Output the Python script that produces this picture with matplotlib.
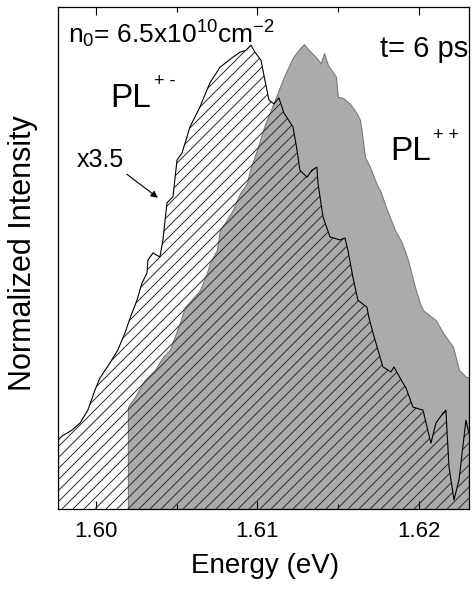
import numpy as np
import matplotlib
matplotlib.use("Agg")
import matplotlib.pyplot as plt
from matplotlib.collections import LineCollection

plt.rcParams['font.family'] = ['Liberation Sans', 'DejaVu Sans']
plt.rcParams['mathtext.fontset'] = 'custom'
plt.rcParams['mathtext.rm'] = 'Liberation Sans'
plt.rcParams['mathtext.default'] = 'regular'

# PL+- spectrum (scaled x3.5), energy in eV
e_pm = [1.59765, 1.59789, 1.59820, 1.59851, 1.59901, 1.59950, 1.59994, 1.60025,
        1.60087, 1.60136, 1.60180, 1.60211, 1.60254, 1.60285, 1.60316, 1.60322,
        1.60353, 1.60396, 1.60415, 1.60440, 1.60477, 1.60502, 1.60533, 1.60582,
        1.60644, 1.60706, 1.60768, 1.60848, 1.60892, 1.60929, 1.60960, 1.60985,
        1.61022, 1.61046, 1.61071, 1.61102, 1.61133, 1.61164, 1.61220, 1.61245,
        1.61263, 1.61307, 1.61337, 1.61368, 1.61375, 1.61406, 1.61449, 1.61511,
        1.61542, 1.61560, 1.61591, 1.61622, 1.61678, 1.61690, 1.61715, 1.61777,
        1.61827, 1.61845, 1.61901, 1.61920, 1.61963, 1.62025, 1.62074, 1.62105,
        1.62149, 1.62167, 1.62186, 1.62217, 1.62248, 1.62291, 1.62310]
i_pm = [0.137, 0.145, 0.151, 0.157, 0.171, 0.197, 0.237, 0.261,
        0.291, 0.317, 0.351, 0.380, 0.416, 0.450, 0.470, 0.496,
        0.510, 0.502, 0.536, 0.610, 0.622, 0.695, 0.709, 0.761,
        0.801, 0.849, 0.880, 0.900, 0.910, 0.914, 0.924, 0.910,
        0.894, 0.855, 0.815, 0.807, 0.819, 0.789, 0.761, 0.715,
        0.675, 0.661, 0.675, 0.681, 0.649, 0.582, 0.542, 0.536,
        0.540, 0.516, 0.462, 0.416, 0.402, 0.382, 0.351, 0.283,
        0.273, 0.283, 0.251, 0.241, 0.203, 0.197, 0.131, 0.171,
        0.191, 0.197, 0.084, 0.018, 0.058, 0.177, 0.151]

# PL++ spectrum
e_pp = [1.60198, 1.60241, 1.60303, 1.60365, 1.60415, 1.60458, 1.60520, 1.60551,
        1.60644, 1.60687, 1.60706, 1.60749, 1.60768, 1.60799, 1.60848, 1.60892,
        1.60935, 1.60954, 1.60997, 1.61046, 1.61108, 1.61164, 1.61220, 1.61269,
        1.61288, 1.61319, 1.61362, 1.61393, 1.61412, 1.61437, 1.61486, 1.61498,
        1.61529, 1.61573, 1.61610, 1.61635, 1.61647, 1.61666, 1.61697, 1.61746,
        1.61759, 1.61802, 1.61851, 1.61895, 1.61932, 1.61975, 1.62006, 1.62025,
        1.62105, 1.62149, 1.62211, 1.62248, 1.62291, 1.62310]
i_pp = [0.203, 0.223, 0.257, 0.277, 0.303, 0.317, 0.371, 0.402,
        0.436, 0.470, 0.490, 0.516, 0.556, 0.570, 0.596, 0.629,
        0.649, 0.675, 0.715, 0.765, 0.815, 0.861, 0.900, 0.920,
        0.926, 0.914, 0.900, 0.888, 0.908, 0.884, 0.861, 0.821,
        0.819, 0.807, 0.791, 0.775, 0.749, 0.701, 0.681, 0.641,
        0.635, 0.596, 0.556, 0.530, 0.496, 0.442, 0.410, 0.396,
        0.376, 0.351, 0.323, 0.277, 0.263, 0.263]

xticks = [1.60, 1.61, 1.62]
xtick_labels = ['1.60', '1.61', '1.62']

fig = plt.figure(figsize=(4.76, 5.90), dpi=100)
ax = fig.add_axes([0.1218, 0.1373, 0.8635, 0.8508])
ax.set_xlim(1.59765, 1.62310)
ax.set_ylim(0, 1)

# gray filled PL++
ax.fill_between(e_pp, 0, i_pp, facecolor='#ababab', edgecolor='#7a7a7a', lw=0.8, zorder=1)

# PL+- outline polygon, used to clip the hatching
px = [e_pm[0]] + e_pm + [e_pm[-1]]
py = [0] + i_pm + [0]
pm_patch = ax.fill(px, py, facecolor='none', edgecolor='none', zorder=2)[0]

# diagonal hatching drawn in axes fraction, 45 deg in pixels
W, H = 411.0, 502.0
step = 11.0
segs = []
for c in np.arange(-H, W + step, step):
    segs.append([(c / W, 0.0), ((c + H) / W, 1.0)])
hatch = LineCollection(segs, colors='#2a2a2a', linewidths=0.7,
                       transform=ax.transAxes, zorder=3)
hatch.set_clip_path(pm_patch)
ax.add_collection(hatch)

ax.plot(e_pm, i_pm, color='black', lw=0.8, zorder=4)
ax.plot([e_pm[0], e_pm[0]], [0, i_pm[0]], color='black', lw=0.8, zorder=4)

ax.set_xticks(xticks)
ax.set_xticklabels(xtick_labels)
ax.set_xticks([1.605, 1.615], minor=True)
ax.set_yticks([])
ax.tick_params(axis='x', which='both', direction='in', top=True, labelsize=16, pad=9)
ax.tick_params(axis='x', which='major', length=6, width=0.8)
ax.tick_params(axis='x', which='minor', length=3.5, width=0.8)
for s in ax.spines.values():
    s.set_linewidth(0.9)

ax.set_xlabel('Energy (eV)', fontsize=20)
ax.xaxis.set_label_coords(0.504, -0.088)
ax.set_ylabel('Normalized Intensity', fontsize=22)
ax.yaxis.set_label_coords(-0.048, 0.51)

ax.text(0.024, 0.928, 'n$_0$= 6.5x10$^{10}$cm$^{-2}$', transform=ax.transAxes,
        fontsize=19, va='baseline', ha='left')
ax.text(0.998, 0.900, 't= 6 ps', transform=ax.transAxes,
        fontsize=21, va='baseline', ha='right')

# PL labels with small, spaced superscripts
ax.text(0.127, 0.801, 'PL', transform=ax.transAxes,
        fontsize=24, va='baseline', ha='left')
ax.text(0.234, 0.842, '+ -', transform=ax.transAxes,
        fontsize=13, va='baseline', ha='left')
ax.text(0.808, 0.695, 'PL', transform=ax.transAxes,
        fontsize=24, va='baseline', ha='left')
ax.text(0.913, 0.735, '+ +', transform=ax.transAxes,
        fontsize=13, va='baseline', ha='left')

ax.annotate('x3.5', xy=(0.243, 0.620), xytext=(0.046, 0.681),
            xycoords='axes fraction', textcoords='axes fraction',
            fontsize=18, va='baseline', ha='left',
            arrowprops=dict(arrowstyle='-|>', color='black', lw=0.8,
                            mutation_scale=10, shrinkA=0, shrinkB=0,
                            relpos=(1.0, 0.0)))

fig.savefig('out.png', dpi=100)
